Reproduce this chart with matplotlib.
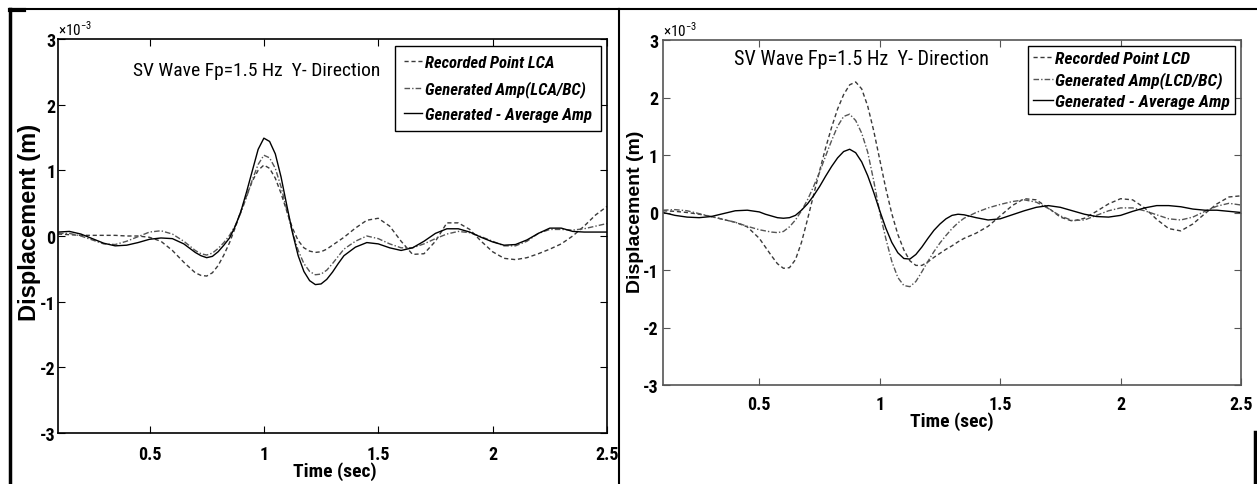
import matplotlib
matplotlib.use("Agg")
import matplotlib.pyplot as plt
import numpy as np
from matplotlib import font_manager
from matplotlib.font_manager import FontProperties
from matplotlib.lines import Line2D

# sampling times (sec), denser around the main pulse
time_left = np.concatenate([np.linspace(0.10, 0.65, 12), np.linspace(0.70, 1.35, 27),
                            np.linspace(1.40, 2.50, 23)])
time_right = np.concatenate([np.linspace(0.10, 0.45, 8), np.linspace(0.50, 1.35, 35),
                             np.linspace(1.40, 2.50, 23)])

# left panel, values in 1e-3 m
lca_recorded = [0.03, 0.02, 0.01, 0.01, 0.01, 0.01, 0.00, 0.00, -0.02, -0.08, -0.22, -0.40,
                -0.56, -0.60, -0.61, -0.56, -0.45, -0.29, -0.10, 0.13, 0.38, 0.62, 0.84, 1.00,
                1.08, 1.03, 0.88, 0.65, 0.38, 0.12, -0.07, -0.18, -0.23, -0.25, -0.24, -0.20,
                -0.14, -0.08, -0.02,
                0.12, 0.24, 0.27, 0.15, -0.08, -0.28, -0.27, -0.08, 0.20, 0.20, 0.10, -0.08,
                -0.24, -0.34, -0.36, -0.33, -0.27, -0.20, -0.12, 0.00, 0.15, 0.32, 0.45]
lca_generated = [0.04, 0.04, 0.00, -0.06, -0.12, -0.13, -0.08, -0.01, 0.06, 0.08, 0.03, -0.08,
                 -0.22, -0.27, -0.29, -0.26, -0.19, -0.10, 0.01, 0.16, 0.36, 0.60, 0.86, 1.09,
                 1.23, 1.19, 1.03, 0.75, 0.40, 0.06, -0.22, -0.42, -0.54, -0.59, -0.58, -0.52,
                 -0.42, -0.31, -0.20,
                 -0.08, 0.00, -0.04, -0.12, -0.18, -0.18, -0.12, -0.04, 0.03, 0.07, 0.05, -0.01,
                 -0.08, -0.15, -0.15, -0.08, 0.04, 0.10, 0.10, 0.09, 0.11, 0.15, 0.19]
lca_average = [0.06, 0.07, 0.03, -0.04, -0.11, -0.15, -0.14, -0.10, -0.05, -0.03, -0.04, -0.12,
               -0.25, -0.30, -0.33, -0.31, -0.24, -0.14, -0.03, 0.15, 0.38, 0.68, 1.00, 1.32,
               1.49, 1.44, 1.25, 0.90, 0.47, 0.05, -0.30, -0.54, -0.68, -0.74, -0.73, -0.66,
               -0.55, -0.42, -0.30,
               -0.17, -0.10, -0.12, -0.18, -0.22, -0.18, -0.08, 0.04, 0.11, 0.11, 0.06, -0.02,
               -0.09, -0.14, -0.13, -0.06, 0.04, 0.12, 0.12, 0.07, 0.06, 0.06, 0.06]

# right panel, values in 1e-3 m
lcd_recorded = [0.03, 0.02, 0.00, -0.03, -0.07, -0.12, -0.17, -0.25,
                -0.45, -0.60, -0.75, -0.89, -0.97, -0.96, -0.82, -0.52, -0.12, 0.30, 0.72, 1.12,
                1.48, 1.80, 2.05, 2.22, 2.27, 2.15, 1.85, 1.42, 0.92, 0.42, -0.02, -0.38, -0.65,
                -0.84, -0.92, -0.92, -0.86, -0.78, -0.71, -0.64, -0.58, -0.51, -0.45,
                -0.36, -0.24, -0.06, 0.12, 0.24, 0.22, 0.08, -0.08, -0.15, -0.10, 0.02, 0.15,
                0.24, 0.22, 0.08, -0.12, -0.28, -0.32, -0.20, -0.02, 0.15, 0.27, 0.29]
lcd_generated = [0.04, 0.05, 0.03, -0.02, -0.07, -0.12, -0.17, -0.24,
                 -0.30, -0.32, -0.34, -0.35, -0.33, -0.25, -0.13, 0.03, 0.22, 0.45, 0.70, 0.98,
                 1.25, 1.50, 1.67, 1.71, 1.60, 1.38, 1.05, 0.55, 0.00, -0.45, -0.85, -1.13, -1.27,
                 -1.29, -1.20, -1.03, -0.85, -0.68, -0.53, -0.40, -0.28, -0.18, -0.10,
                 0.00, 0.08, 0.14, 0.19, 0.22, 0.18, 0.07, -0.06, -0.14, -0.13, -0.05, 0.03,
                 0.08, 0.08, 0.03, -0.04, -0.11, -0.13, -0.08, 0.02, 0.11, 0.16, 0.13]
lcd_average = [0.00, -0.05, -0.08, -0.09, -0.07, -0.02, 0.03, 0.04,
               0.01, -0.03, -0.06, -0.09, -0.10, -0.09, -0.05, 0.04, 0.15, 0.29, 0.45, 0.63,
               0.80, 0.95, 1.06, 1.10, 1.04, 0.88, 0.64, 0.35, 0.03, -0.27, -0.52, -0.70, -0.80,
               -0.81, -0.73, -0.60, -0.45, -0.31, -0.20, -0.11, -0.05, -0.03, -0.04,
               -0.09, -0.13, -0.11, -0.04, 0.03, 0.09, 0.12, 0.09, 0.03, -0.03, -0.07, -0.08,
               -0.05, 0.02, 0.08, 0.12, 0.12, 0.10, 0.06, 0.04, 0.04, 0.02, 0.00]

xticks = [0.5, 1.0, 1.5, 2.0, 2.5]
xtick_labels = ["0.5", "1", "1.5", "2", "2.5"]
yticks = [-3, -2, -1, 0, 1, 2, 3]
ytick_labels = ["-3", "-2", "-1", "0", "1", "2", "3"]

title_text = "SV Wave Fp=1.5 Hz  Y- Direction"
labels_left = ["Recorded Point LCA", "Generated Amp(LCA/BC)", "Generated - Average Amp"]
labels_right = ["Recorded Point LCD", "Generated Amp(LCD/BC)", "Generated - Average Amp"]

installed = {f.name for f in font_manager.fontManager.ttflist}
narrow = next((f for f in ["Liberation Sans Narrow", "Arial Narrow", "Roboto Condensed",
                           "DejaVu Sans Condensed", "Liberation Sans"] if f in installed), "DejaVu Sans")
wide = "Liberation Sans" if "Liberation Sans" in installed else "DejaVu Sans"

plt.rcParams["font.family"] = [narrow, "DejaVu Sans"]
plt.rcParams["axes.unicode_minus"] = False
plt.rcParams["mathtext.fontset"] = "custom"
plt.rcParams["mathtext.rm"] = narrow

W, H = 1257, 485
fig = plt.figure(figsize=(W / 100, H / 100), dpi=100)
fig.patch.set_facecolor("white")


def box(x0, y0, x1, y1):
    # pixel box (top-left origin) -> figure fraction rect
    return [x0 / W, 1 - y1 / H, (x1 - x0) / W, (y1 - y0) / H]


def draw_panel(ax, t, series, labels, spine_color, xpad, ypad, title_xy, title_size,
               leg_anchor, leg_size, leg_spacing, leg_pad, ylab_xy, ylab_size, xlab_xy):
    styles = [dict(color="#3a3a3a", linestyle=(0, (3.0, 2.0)), linewidth=1.0),
              dict(color="#555555", linestyle=(0, (4.0, 1.5, 1.0, 1.5)), linewidth=1.0),
              dict(color="black", linestyle="-", linewidth=1.0)]
    for vals, lab, st in zip(series, labels, styles):
        ax.plot(t, np.array(vals) * 1e-3, label=lab, **st)

    ax.set_xlim(0.1, 2.5)
    ax.set_ylim(-3e-3, 3e-3)
    ax.set_xticks(xticks, xtick_labels)
    ax.set_yticks(np.array(yticks) * 1e-3, ytick_labels)
    ax.tick_params(direction="in", length=5, width=0.8, top=True, right=True,
                   labelsize=13, colors=spine_color, labelcolor="black")
    ax.tick_params(axis="x", pad=xpad)
    ax.tick_params(axis="y", pad=ypad)
    for lab in ax.get_xticklabels() + ax.get_yticklabels():
        lab.set_fontweight("bold")
    for sp in ax.spines.values():
        sp.set_color(spine_color)
        sp.set_linewidth(1.2)

    ax.text(0.0, 1.004, r"$\times$10$^{-3}$", transform=ax.transAxes,
            ha="left", va="bottom", fontsize=11)
    ax.text(title_xy[0], title_xy[1], title_text, transform=ax.transAxes,
            ha="center", va="center", fontsize=title_size)

    ax.set_ylabel("Displacement (m)", family=wide, fontweight="bold",
                  fontsize=ylab_size, va="center")
    ax.yaxis.set_label_coords(*ylab_xy)
    ax.set_xlabel("Time (sec)", fontweight="bold", fontsize=14, va="center")
    ax.xaxis.set_label_coords(*xlab_xy)

    leg = ax.legend(loc="upper right", bbox_to_anchor=leg_anchor, borderaxespad=0,
                    prop=FontProperties(family=narrow, weight="bold", style="italic", size=leg_size),
                    frameon=True, fancybox=False, framealpha=1, edgecolor="black",
                    handlelength=1.1, handletextpad=0.15, labelspacing=leg_spacing,
                    borderpad=leg_pad)
    leg.get_frame().set_linewidth(1.0)


ax1 = fig.add_axes(box(58, 40, 607, 434))
draw_panel(ax1, time_left, [lca_recorded, lca_generated, lca_average], labels_left, "black",
           xpad=9, ypad=2, title_xy=(0.361, 0.921), title_size=14,
           leg_anchor=(0.989, 0.982), leg_size=12, leg_spacing=0.6, leg_pad=0.55,
           ylab_xy=(-0.052, 0.538), ylab_size=17, xlab_xy=(0.505, -0.096))

ax2 = fig.add_axes(box(663, 41, 1241, 386))
draw_panel(ax2, time_right, [lcd_recorded, lcd_generated, lcd_average], labels_right, "#555555",
           xpad=7, ypad=3.5, title_xy=(0.344, 0.945), title_size=14.5,
           leg_anchor=(0.990, 0.983), leg_size=12.5, leg_spacing=0.3, leg_pad=0.3,
           ylab_xy=(-0.047, 0.504), ylab_size=14, xlab_xy=(0.5, -0.104))

# page frame lines around the two panels
frame = [((10, 10), (10, 485), 2.5), ((10, 10), (619, 10), 1.5), ((10, 11), (24, 11), 3.0),
         ((619, 10), (619, 485), 1.5), ((619, 10), (1257, 10), 1.5), ((1255, 433), (1255, 485), 2.5)]
for (xa, ya), (xb, yb), lw in frame:
    fig.add_artist(Line2D([xa / W, xb / W], [1 - ya / H, 1 - yb / H], transform=fig.transFigure,
                          color="black", linewidth=lw))

fig.savefig("out.png", dpi=100, facecolor="white")
